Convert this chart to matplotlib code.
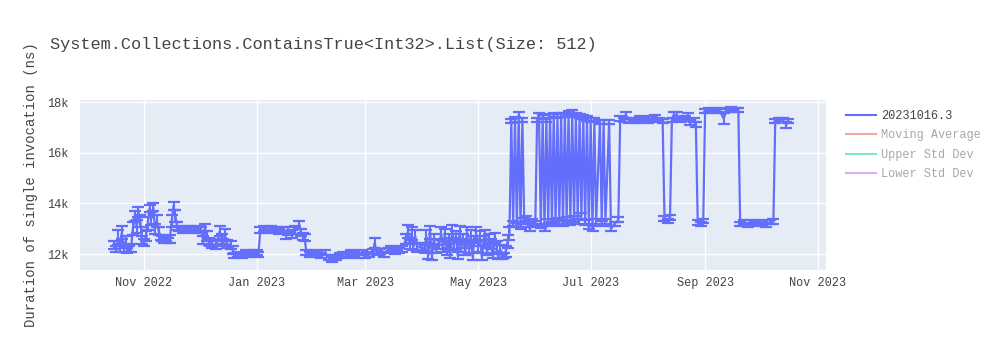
import pandas as pd
import matplotlib
matplotlib.use("Agg")
import matplotlib.pyplot as plt
import matplotlib.dates as mdates
from matplotlib.lines import Line2D
from matplotlib.ticker import FuncFormatter

# daten
dates = [
    "2022-10-16", "2022-10-17", "2022-10-18", "2022-10-19", "2022-10-20", "2022-10-21", "2022-10-22",
    "2022-10-23", "2022-10-24", "2022-10-25", "2022-10-26", "2022-10-27", "2022-10-28", "2022-10-29",
    "2022-10-30", "2022-10-31", "2022-11-01", "2022-11-02", "2022-11-03", "2022-11-04", "2022-11-05",
    "2022-11-06", "2022-11-07", "2022-11-08", "2022-11-09", "2022-11-10", "2022-11-11", "2022-11-12",
    "2022-11-13", "2022-11-14", "2022-11-15", "2022-11-16", "2022-11-17", "2022-11-18", "2022-11-19",
    "2022-11-20", "2022-11-22", "2022-11-24", "2022-11-26", "2022-11-28", "2022-11-30", "2022-12-02",
    "2022-12-03", "2022-12-04", "2022-12-05", "2022-12-06", "2022-12-07", "2022-12-08", "2022-12-10",
    "2022-12-12", "2022-12-13", "2022-12-14", "2022-12-15", "2022-12-16", "2022-12-18", "2022-12-19",
    "2022-12-20", "2022-12-22", "2022-12-24", "2022-12-26", "2022-12-28", "2022-12-30", "2023-01-01",
    "2023-01-02", "2023-01-03", "2023-01-05", "2023-01-07", "2023-01-09", "2023-01-11", "2023-01-13",
    "2023-01-15", "2023-01-17", "2023-01-18", "2023-01-20", "2023-01-22", "2023-01-24", "2023-01-25",
    "2023-01-26", "2023-01-27", "2023-01-28", "2023-01-30", "2023-02-01", "2023-02-03", "2023-02-05",
    "2023-02-07", "2023-02-09", "2023-02-11", "2023-02-13", "2023-02-15", "2023-02-17", "2023-02-19",
    "2023-02-21", "2023-02-23", "2023-02-25", "2023-02-27", "2023-03-01", "2023-03-03", "2023-03-05",
    "2023-03-06", "2023-03-07", "2023-03-09", "2023-03-11", "2023-03-13", "2023-03-15", "2023-03-17",
    "2023-03-19", "2023-03-21", "2023-03-23", "2023-03-24", "2023-03-25", "2023-03-26", "2023-03-27",
    "2023-03-28", "2023-03-29", "2023-03-31", "2023-04-02", "2023-04-03", "2023-04-04", "2023-04-05",
    "2023-04-06", "2023-04-07", "2023-04-08", "2023-04-10", "2023-04-11", "2023-04-12", "2023-04-13",
    "2023-04-14", "2023-04-15", "2023-04-16", "2023-04-17", "2023-04-18", "2023-04-19", "2023-04-20",
    "2023-04-21", "2023-04-22", "2023-04-23", "2023-04-24", "2023-04-25", "2023-04-26", "2023-04-27",
    "2023-04-28", "2023-04-29", "2023-04-30", "2023-05-01", "2023-05-02", "2023-05-03", "2023-05-04",
    "2023-05-05", "2023-05-06", "2023-05-07", "2023-05-08", "2023-05-09", "2023-05-10", "2023-05-11",
    "2023-05-12", "2023-05-13", "2023-05-14", "2023-05-15", "2023-05-16", "2023-05-17", "2023-05-18",
    "2023-05-19", "2023-05-20", "2023-05-21", "2023-05-22", "2023-05-23", "2023-05-24", "2023-05-25",
    "2023-05-26", "2023-05-27", "2023-05-28", "2023-05-29", "2023-05-30", "2023-06-01", "2023-06-02",
    "2023-06-03", "2023-06-04", "2023-06-05", "2023-06-06", "2023-06-07", "2023-06-08", "2023-06-09",
    "2023-06-10", "2023-06-11", "2023-06-12", "2023-06-13", "2023-06-14", "2023-06-15", "2023-06-16",
    "2023-06-17", "2023-06-18", "2023-06-19", "2023-06-20", "2023-06-21", "2023-06-22", "2023-06-23",
    "2023-06-24", "2023-06-25", "2023-06-26", "2023-06-27", "2023-06-28", "2023-06-29", "2023-06-30",
    "2023-07-01", "2023-07-02", "2023-07-03", "2023-07-04", "2023-07-06", "2023-07-07", "2023-07-08",
    "2023-07-09", "2023-07-11", "2023-07-12", "2023-07-14", "2023-07-16", "2023-07-17", "2023-07-19",
    "2023-07-20", "2023-07-22", "2023-07-24", "2023-07-26", "2023-07-28", "2023-07-30", "2023-08-01",
    "2023-08-03", "2023-08-05", "2023-08-07", "2023-08-09", "2023-08-10", "2023-08-12", "2023-08-13",
    "2023-08-14", "2023-08-15", "2023-08-17", "2023-08-19", "2023-08-21", "2023-08-23", "2023-08-24",
    "2023-08-26", "2023-08-27", "2023-08-28", "2023-08-30", "2023-08-31", "2023-09-01", "2023-09-03",
    "2023-09-05", "2023-09-07", "2023-09-09", "2023-09-11", "2023-09-13", "2023-09-15", "2023-09-17",
    "2023-09-19", "2023-09-20", "2023-09-22", "2023-09-24", "2023-09-26", "2023-09-28", "2023-09-30",
    "2023-10-02", "2023-10-04", "2023-10-06", "2023-10-08", "2023-10-09", "2023-10-11", "2023-10-13",
    "2023-10-15", "2023-10-16",
]

means = [
    12350, 12200, 12650, 12250, 12850, 12200, 12500,
    12150, 12200, 12250, 13000, 13500, 13100, 13650,
    13300, 12550, 12450, 12700, 13200, 13800, 13400,
    13850, 13000, 13300, 12900, 12650, 12600, 12550,
    12600, 12550, 12600, 13300, 13900, 13500, 13100,
    13000, 12950, 13000, 13000, 12950, 13000, 12950,
    12550, 13050, 12700, 12500, 12450, 12400, 12350,
    12900, 12600, 12450, 12750, 12400, 12350, 12150,
    11950, 12000, 11950, 12050, 12000, 12050, 12050,
    12000, 12950, 13000, 12950, 13000, 12950, 12900,
    12950, 12750, 12900, 12800, 12950, 13150, 12850,
    12700, 12650, 12050, 12000, 12050, 12000, 11950,
    12050, 11850, 11800, 11850, 11950, 12000, 11950,
    12050, 12000, 11950, 12050, 11950, 12000, 12100,
    12450, 12050, 12100, 12000, 12150, 12200, 12100,
    12150, 12200, 12600, 12900, 12400, 12800, 12300,
    12700, 12250, 12300, 12200, 12700, 11950, 12850,
    11900, 12600, 12200, 12400, 12800, 12300, 12750,
    12100, 12600, 12000, 12900, 12400, 12700, 11950,
    12850, 12300, 12600, 12100, 12800, 12200, 12700,
    11900, 12500, 12800, 12300, 12700, 11900, 12500,
    12750, 12100, 12600, 12400, 11950, 12650, 12300,
    11900, 12200, 11900, 11950, 12100, 12500, 12800,
    17250, 13200, 17300, 13150, 17500, 13100, 17300,
    13300, 13400, 13150, 13000, 13300, 13200, 17300,
    17450, 13100, 17400, 13000, 17300, 13300, 17450,
    13200, 17500, 13250, 17450, 13300, 17500, 13200,
    17500, 13350, 17550, 13250, 17600, 13400, 17500,
    13300, 17450, 13500, 17400, 13250, 17350, 13100,
    17300, 13000, 17300, 13300, 17200, 13200, 17200,
    13300, 17200, 13000, 13200, 13350, 17350, 17300,
    17500, 17250, 17300, 17250, 17350, 17300, 17250,
    17350, 17400, 17300, 17250, 13400, 13300, 13450,
    17300, 17500, 17450, 17300, 17350, 17450, 17200,
    17300, 17100, 13250, 13200, 13300, 17650, 17700,
    17650, 17700, 17650, 17350, 17700, 17720, 17700,
    17700, 13200, 13250, 13150, 13250, 13200, 13250,
    13200, 13150, 13250, 13300, 17250, 17300, 17300,
    17100, 17250,
]

stds = [
    150, 120, 300, 150, 250, 120, 200,
    100, 120, 150, 250, 200, 250, 200,
    250, 150, 150, 200, 250, 150, 250,
    150, 200, 250, 150, 100, 100, 100,
    100, 100, 150, 250, 150, 250, 150,
    100, 100, 100, 100, 100, 100, 100,
    150, 150, 200, 150, 150, 150, 150,
    200, 200, 150, 250, 150, 150, 150,
    100, 100, 100, 100, 100, 100, 100,
    100, 100, 100, 100, 100, 100, 100,
    100, 150, 150, 150, 150, 150, 150,
    150, 150, 100, 100, 100, 100, 100,
    100, 100, 100, 100, 100, 100, 100,
    100, 100, 100, 100, 100, 100, 100,
    200, 100, 100, 100, 100, 100, 100,
    100, 100, 200, 250, 200, 250, 150,
    250, 150, 150, 150, 250, 150, 250,
    150, 200, 150, 200, 250, 200, 250,
    150, 200, 150, 250, 200, 200, 150,
    250, 200, 200, 150, 250, 150, 250,
    150, 200, 250, 200, 200, 150, 200,
    200, 150, 200, 200, 100, 200, 200,
    100, 150, 100, 100, 200, 250, 250,
    80, 100, 100, 80, 120, 100, 80,
    120, 100, 100, 80, 100, 100, 80,
    100, 80, 80, 100, 80, 100, 80,
    80, 80, 100, 80, 120, 80, 100,
    80, 120, 80, 100, 80, 120, 80,
    100, 80, 120, 80, 100, 80, 100,
    80, 100, 80, 100, 80, 100, 80,
    100, 80, 100, 80, 100, 80, 80,
    120, 80, 80, 80, 80, 80, 80,
    80, 80, 80, 80, 100, 80, 100,
    80, 120, 150, 80, 80, 120, 100,
    80, 100, 100, 80, 80, 80, 80,
    80, 80, 80, 200, 80, 80, 80,
    80, 80, 80, 80, 80, 80, 80,
    80, 80, 80, 100, 80, 80, 80,
    120, 80,
]

series_name = "20231016.3"
hidden_names = ["Moving Average", "Upper Std Dev", "Lower Std Dev"]
hidden_colors = ["#EF553B", "#00CC96", "#AB63FA"]
title = "System.Collections.ContainsTrue<Int32>.List(Size: 512)"
ylabel = "Duration of single invocation (ns)"

font = "Liberation Mono"
plt.rcParams["font.family"] = [font, "DejaVu Sans"]
txt_color = "#444444"

x = pd.to_datetime(dates)

fig = plt.figure(figsize=(10, 3.5), dpi=100)
ax = fig.add_axes([0.08, 1 - 270 / 350, 0.746, 170 / 350])
ax.set_facecolor("#E5ECF6")

ax.errorbar(x, means, yerr=stds, color="#636EFA", lw=1.6, elinewidth=1.5,
            capsize=4, capthick=1.6, zorder=3)

ax.set_xlim(pd.Timestamp("2022-09-27 08:00"), pd.Timestamp("2023-11-05 12:00"))
ax.set_ylim(11370, 18080)
ax.set_yticks([12000, 14000, 16000, 18000])
ax.yaxis.set_major_formatter(FuncFormatter(lambda v, p: f"{int(v / 1000)}k"))
ax.xaxis.set_major_locator(mdates.MonthLocator(bymonth=[1, 3, 5, 7, 9, 11]))
ax.xaxis.set_major_formatter(mdates.DateFormatter("%b %Y"))

ax.grid(True, color="white", lw=1)
ax.set_axisbelow(True)
for s in ax.spines.values():
    s.set_visible(False)
ax.tick_params(length=0, labelsize=8.6, colors=txt_color)
ax.tick_params(axis="x", pad=5)
ax.tick_params(axis="y", pad=8)

fig.text(0.05, 1 - 45 / 350, title, fontsize=12.2, color=txt_color, va="center", ha="left")
fig.text(0.031, 1 - 185 / 350, ylabel, fontsize=10, color=txt_color, rotation=90,
         va="center", ha="center")

handles = [Line2D([], [], color="#636EFA", lw=1.5)]
for c in hidden_colors:
    handles.append(Line2D([], [], color=c, lw=1.5, alpha=0.5))
leg = fig.legend(handles, [series_name] + hidden_names, loc="upper left",
                 bbox_to_anchor=(0.846, 1 - 110 / 350), bbox_transform=fig.transFigure,
                 frameon=False, fontsize=8.6, handlelength=2.5, handletextpad=0.45,
                 borderpad=0, borderaxespad=0, labelspacing=0.62)
for i, t in enumerate(leg.get_texts()):
    t.set_color(txt_color if i == 0 else "#a8a8a8")

fig.savefig("out.png", dpi=100, facecolor="white")
